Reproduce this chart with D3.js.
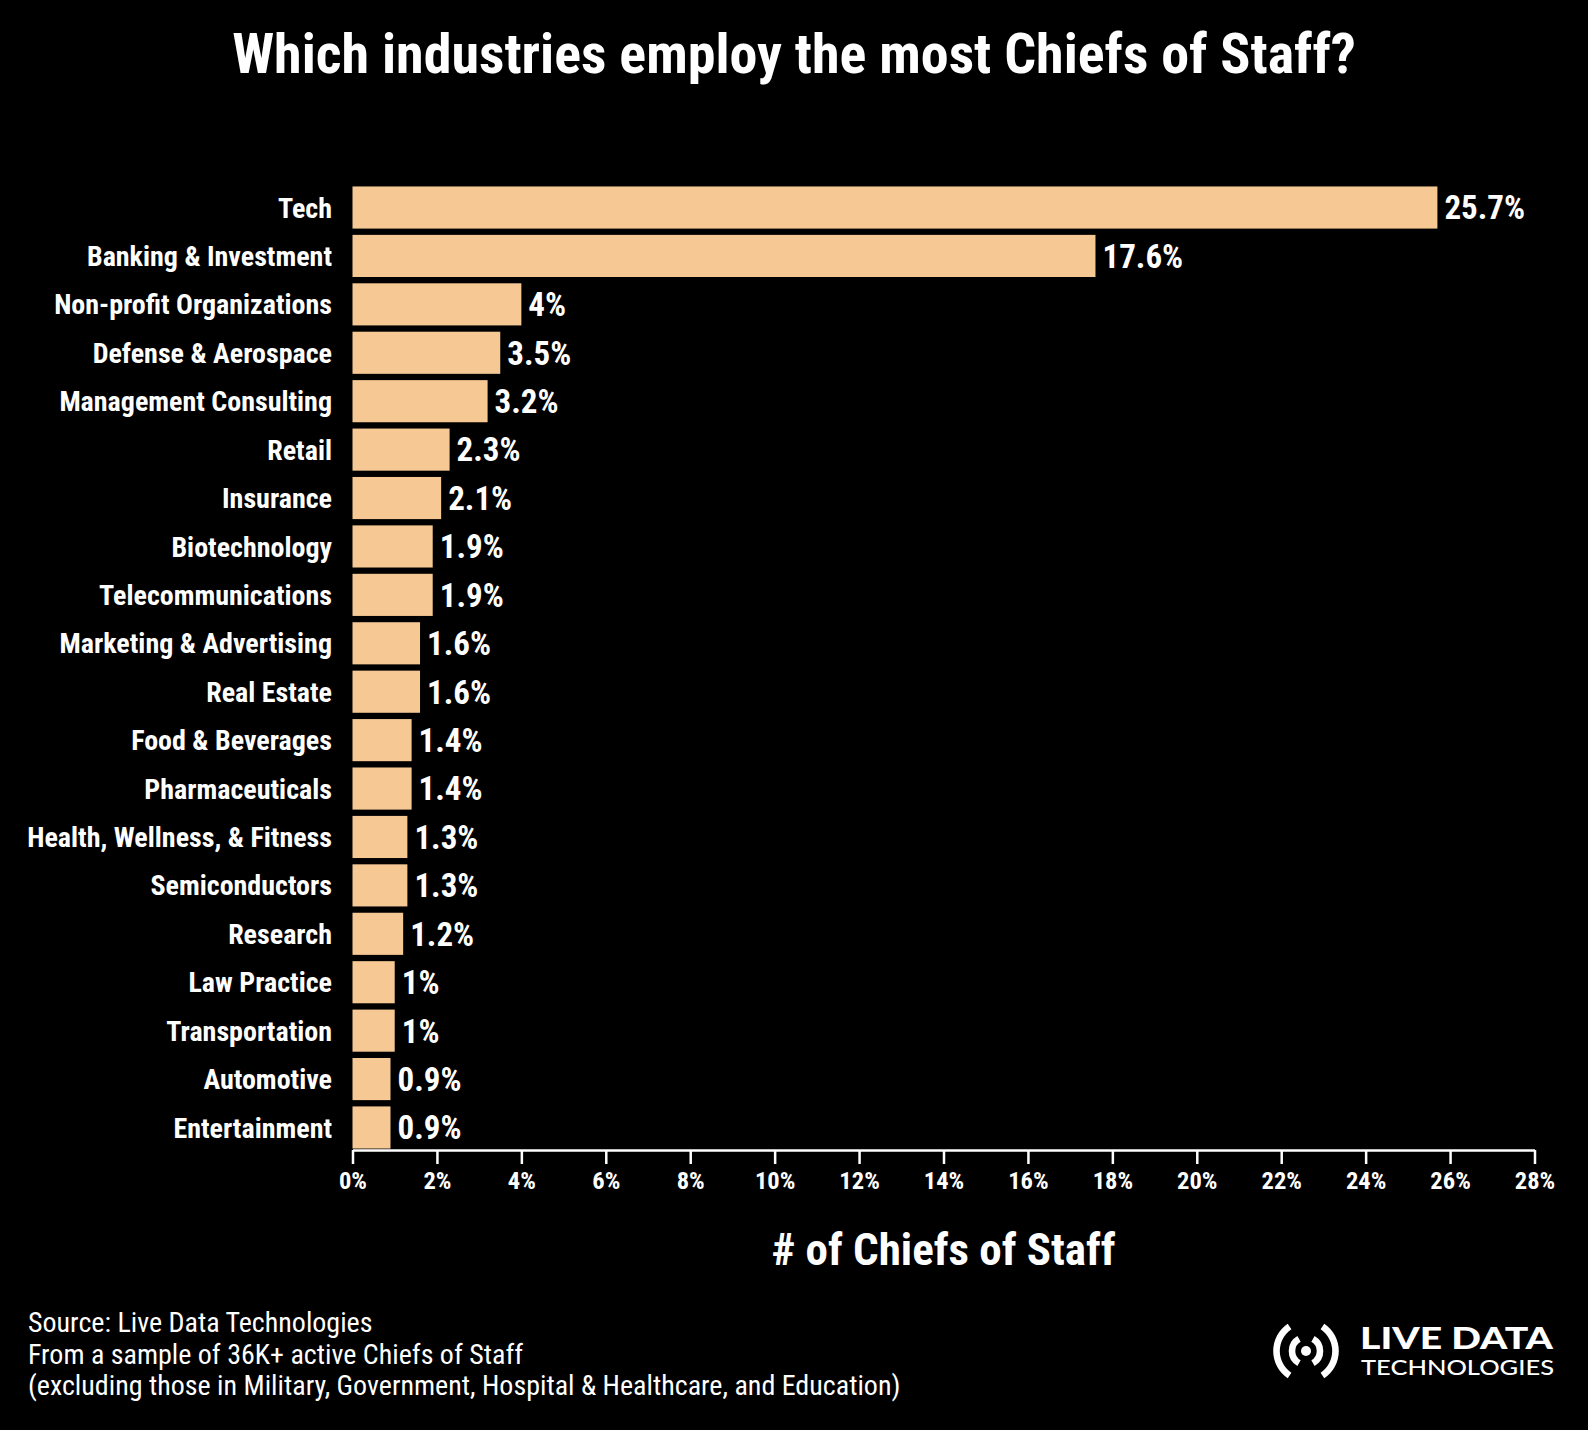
<!DOCTYPE html>
<html>
<head>
<meta charset="utf-8">
<script src="https://cdn.jsdelivr.net/npm/d3@7"></script>
<style>
  body { margin: 0; background: #000; }
  svg text { font-family: "Roboto Condensed", Roboto, sans-serif; font-stretch: condensed; fill: #fff; }
</style>
</head>
<body>
<div id="chart"></div>
<script>
// data
let industries = [
    "Tech", "Banking & Investment", "Non-profit Organizations", "Defense & Aerospace",
    "Management Consulting", "Retail", "Insurance", "Biotechnology", "Telecommunications",
    "Marketing & Advertising", "Real Estate", "Food & Beverages", "Pharmaceuticals",
    "Health, Wellness, & Fitness", "Semiconductors", "Research", "Law Practice",
    "Transportation", "Automotive", "Entertainment"
];
let shares = [25.7, 17.6, 4, 3.5, 3.2, 2.3, 2.1, 1.9, 1.9, 1.6, 1.6, 1.4, 1.4, 1.3, 1.3, 1.2, 1, 1, 0.9, 0.9];
let xTicks = [0, 2, 4, 6, 8, 10, 12, 14, 16, 18, 20, 22, 24, 26, 28];
let footnotes = [
    "Source: Live Data Technologies",
    "From a sample of 36K+ active Chiefs of Staff",
    "(excluding those in Military, Government, Hospital & Healthcare, and Education)"
];

let width = 1588,
    height = 1430;

let svg = d3.select("#chart").append("svg")
    .attr("width", width)
    .attr("height", height)
    .style("background", "#000");

let x = d3.scaleLinear()
    .domain([0, 28])
    .range([352.5, 1534.5]);

let y = d3.scaleBand()
    .domain(industries)
    .range([185, 1150])
    .paddingInner(0.13)
    .paddingOuter(0.03);

// Title
svg.append("text")
    .attr("x", width / 2)
    .attr("y", 73)
    .attr("text-anchor", "middle")
    .style("font-size", "56px")
    .style("font-weight", "bold")
    .text("Which industries employ the most Chiefs of Staff?");

// Bars
svg.selectAll(".bar")
    .data(industries)
    .enter().append("rect")
    .attr("class", "bar")
    .attr("x", x(0))
    .attr("y", d => y(d))
    .attr("width", (d, i) => x(shares[i]) - x(0))
    .attr("height", y.bandwidth())
    .style("fill", "#f6c994");

// Value labels
svg.selectAll(".val")
    .data(industries)
    .enter().append("text")
    .attr("class", "val")
    .attr("x", (d, i) => x(shares[i]) + 7)
    .attr("y", d => y(d) + y.bandwidth() / 2)
    .attr("dy", "0.36em")
    .style("font-size", "33px")
    .style("font-weight", "bold")
    .text((d, i) => shares[i] + "%");

// Category labels
svg.selectAll(".cat")
    .data(industries)
    .enter().append("text")
    .attr("class", "cat")
    .attr("x", 332)
    .attr("y", d => y(d) + y.bandwidth() / 2)
    .attr("dy", "0.36em")
    .attr("text-anchor", "end")
    .style("font-size", "28px")
    .style("font-weight", "bold")
    .text(d => d);

// X axis
let xAxis = svg.append("g")
    .attr("transform", "translate(0,1150)")
    .call(d3.axisBottom(x).tickValues(xTicks).tickSize(14).tickSizeOuter(0).tickFormat(d => d + "%"));

xAxis.select(".domain").attr("stroke", "#fff").attr("stroke-width", 2.5);
xAxis.selectAll(".tick line").attr("stroke", "#fff").attr("stroke-width", 2.5);
xAxis.selectAll(".tick text")
    .attr("y", 22)
    .style("font-size", "24.5px")
    .style("font-weight", "bold")
    .style("fill", "#fff")
    .style("font-family", null);

// Axis title
svg.append("text")
    .attr("x", (x.range()[0] + x.range()[1]) / 2)
    .attr("y", 1265)
    .attr("text-anchor", "middle")
    .style("font-size", "45px")
    .style("font-weight", "bold")
    .text("# of Chiefs of Staff");

// Footnotes
svg.selectAll(".foot")
    .data(footnotes)
    .enter().append("text")
    .attr("class", "foot")
    .attr("x", 28)
    .attr("y", (d, i) => 1332 + i * 31.5)
    .style("font-size", "28px")
    .text(d => d);

// Logo
let logo = svg.append("g").attr("transform", "translate(1306,1351)");
let arcGen = d3.arc();
[14, 29.5].forEach((r, k) => {
    let span = k === 0 ? 1.05 : 0.98;
    [Math.PI / 2, -Math.PI / 2].forEach(mid => {
        logo.append("path")
            .attr("d", arcGen({
                innerRadius: r - 3.3,
                outerRadius: r + 3.3,
                startAngle: mid - span,
                endAngle: mid + span
            }))
            .attr("fill", "#fff");
    });
});
logo.append("circle").attr("r", 5).attr("fill", "#fff");

svg.append("text")
    .attr("x", 1360)
    .attr("y", 1349)
    .attr("textLength", 193)
    .attr("lengthAdjust", "spacingAndGlyphs")
    .style("font-family", "Lato, 'Noto Sans', sans-serif")
    .style("font-stretch", "normal")
    .style("font-size", "30px")
    .style("font-weight", "900")
    .text("LIVE DATA");

svg.append("text")
    .attr("x", 1361)
    .attr("y", 1375)
    .attr("textLength", 193)
    .attr("lengthAdjust", "spacingAndGlyphs")
    .style("font-family", "Lato, 'Noto Sans', sans-serif")
    .style("font-stretch", "normal")
    .style("font-size", "22px")
    .style("font-weight", "500")
    .text("TECHNOLOGIES");
</script>
</body>
</html>
